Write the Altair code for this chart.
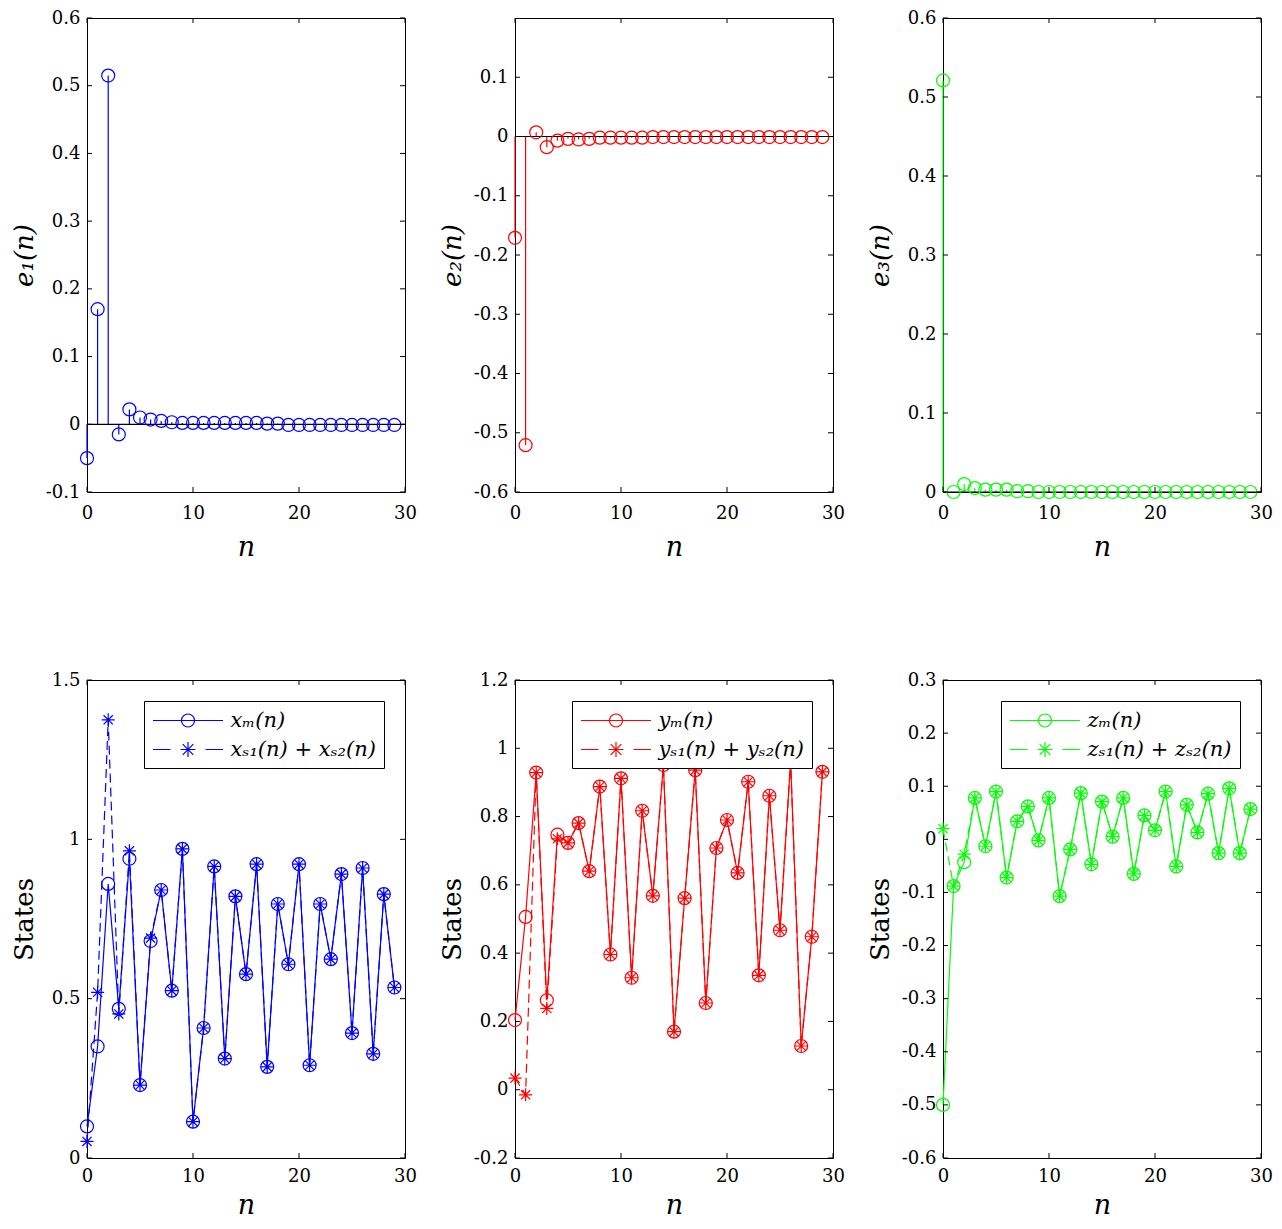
import altair as alt
import pandas as pd

# ---------------- data ----------------
N = list(range(30))

e1 = [-0.050, 0.170, 0.515, -0.015, 0.022, 0.010, 0.007, 0.005, 0.003, 0.002,
      0.002, 0.002, 0.002, 0.002, 0.002, 0.002, 0.002, 0.001, 0.001, -0.001,
      -0.001, -0.001, -0.001, -0.001, -0.001, -0.001, -0.001, -0.001, -0.001, -0.001]
e2 = [-0.171, -0.521, 0.007, -0.018, -0.007, -0.004, -0.005, -0.004, -0.002, -0.002,
      -0.002, -0.002, -0.002, -0.001, -0.001, -0.001, -0.001, -0.001, -0.001, -0.001,
      -0.001, -0.001, -0.001, -0.001, -0.001, -0.001, -0.001, -0.001, -0.001, -0.001]
e3 = [0.521, 0.000, 0.010, 0.005, 0.003, 0.003, 0.003, 0.001, 0.001, 0.000,
      0.000, 0.000, 0.000, 0.000, 0.000, 0.000, 0.000, 0.000, 0.000, 0.000,
      0.000, 0.000, 0.000, 0.000, 0.000, 0.000, 0.000, 0.000, 0.000, 0.000]

xm = [0.099, 0.350, 0.860, 0.468, 0.939, 0.229, 0.681, 0.841, 0.525, 0.970,
      0.114, 0.408, 0.915, 0.312, 0.821, 0.577, 0.922, 0.286, 0.797, 0.608,
      0.922, 0.291, 0.797, 0.624, 0.891, 0.392, 0.910, 0.327, 0.828, 0.535]
xs = [0.052, 0.520, 1.375, 0.452, 0.964, 0.229, 0.690, 0.841, 0.525, 0.970,
      0.114, 0.408, 0.915, 0.312, 0.821, 0.577, 0.922, 0.286, 0.797, 0.608,
      0.922, 0.291, 0.797, 0.624, 0.891, 0.392, 0.910, 0.327, 0.828, 0.535]

ym = [0.204, 0.506, 0.929, 0.262, 0.747, 0.723, 0.781, 0.640, 0.888, 0.396,
      0.912, 0.328, 0.817, 0.568, 0.951, 0.170, 0.561, 0.936, 0.254, 0.708,
      0.790, 0.635, 0.902, 0.335, 0.861, 0.467, 0.962, 0.128, 0.448, 0.931]
ys = [0.034, -0.015, 0.929, 0.238, 0.735, 0.723, 0.781, 0.640, 0.888, 0.396,
      0.912, 0.328, 0.817, 0.568, 0.951, 0.170, 0.561, 0.936, 0.254, 0.708,
      0.790, 0.635, 0.902, 0.335, 0.861, 0.467, 0.962, 0.128, 0.448, 0.931]

zm = [-0.500, -0.088, -0.043, 0.078, -0.013, 0.090, -0.072, 0.034, 0.062, -0.002,
      0.078, -0.107, -0.019, 0.087, -0.047, 0.071, 0.005, 0.078, -0.065, 0.045,
      0.017, 0.090, -0.051, 0.065, 0.013, 0.086, -0.026, 0.096, -0.026, 0.057]
zs = [0.020, -0.088, -0.028, 0.078, -0.013, 0.090, -0.072, 0.034, 0.062, -0.002,
      0.078, -0.107, -0.019, 0.087, -0.047, 0.071, 0.005, 0.078, -0.065, 0.045,
      0.017, 0.090, -0.051, 0.065, 0.013, 0.086, -0.026, 0.096, -0.026, 0.057]

x_ticks = [0, 10, 20, 30]
yt_e1 = [-0.1, 0.0, 0.1, 0.2, 0.3, 0.4, 0.5, 0.6]
yt_e2 = [-0.6, -0.5, -0.4, -0.3, -0.2, -0.1, 0.0, 0.1]
yt_e3 = [0.0, 0.1, 0.2, 0.3, 0.4, 0.5, 0.6]
yt_x = [0.0, 0.5, 1.0, 1.5]
yt_y = [-0.2, 0.0, 0.2, 0.4, 0.6, 0.8, 1.0, 1.2]
yt_z = [-0.6, -0.5, -0.4, -0.3, -0.2, -0.1, 0.0, 0.1, 0.2, 0.3]

lab_x = ["xₘ(n)", "xₛ₁(n) + xₛ₂(n)"]
lab_y = ["yₘ(n)", "yₛ₁(n) + yₛ₂(n)"]
lab_z = ["zₘ(n)", "zₛ₁(n) + zₛ₂(n)"]

# ---------------- style ----------------
BLUE, RED, GREEN = "#0000ff", "#ff0000", "#00ff00"
FONT = "DejaVu Serif"
W = 318
H_TOP, H_BOT = 474, 478
TICK = 5
LW = 1.2
MSIZE = 169
STAR = ("M-1,0L1,0M0,-1L0,1M-0.7071,-0.7071L0.7071,0.7071"
        "M-0.7071,0.7071L0.7071,-0.7071")
# legend symbols: unit = 10.5 px (symbol size 441)
LEG_M = ("M-3.333,0L3.333,0M0.619,0A0.619,0.619 0 1,1 -0.619,0"
         "A0.619,0.619 0 1,1 0.619,0")
LEG_S = ("M-3.333,0L-1.667,0M1.667,0L3.333,0M-0.714,0L0.714,0M0,-0.714L0,0.714"
         "M-0.505,-0.505L0.505,0.505M-0.505,0.505L0.505,-0.505")

LABEL_EXPR = ("datum.value < 0 ? '-' + format(-datum.value, '.1~f') "
              ": format(datum.value, '.1~f')")


def x_axis(top_row):
    return alt.Axis(values=x_ticks, format="d", domain=False, ticks=False, grid=False,
                    labelFont=FONT, labelFontSize=18, labelColor="black",
                    labelPadding=12 if top_row else 9, labelFlush=False, labelOverlap=False,
                    title="n", titleFont=FONT, titleFontSize=27, titleFontStyle="italic",
                    titleFontWeight="normal", titleColor="black",
                    titlePadding=12 if top_row else 7)


def y_axis(vals, title, italic):
    return alt.Axis(values=vals, labelExpr=LABEL_EXPR, domain=False, ticks=False, grid=False,
                    labelFont=FONT, labelFontSize=18, labelColor="black",
                    labelPadding=7, labelOverlap=False, minExtent=45, maxExtent=45,
                    title=title, titleFont=FONT, titleFontSize=26,
                    titleFontStyle="italic" if italic else "normal",
                    titleFontWeight="normal", titleColor="black", titlePadding=5)


def frame_ticks(yvals, xsc, ysc, xax, yax, H):
    ydf = pd.DataFrame({"t": yvals})
    xdf = pd.DataFrame({"t": x_ticks})
    rule = dict(color="black", strokeWidth=1)
    left = alt.Chart(ydf).mark_rule(**rule).encode(
        y=alt.Y("t:Q", scale=ysc, axis=yax), x=alt.value(0), x2=alt.value(TICK))
    right = alt.Chart(ydf).mark_rule(**rule).encode(
        y=alt.Y("t:Q", scale=ysc, axis=yax), x=alt.value(W - TICK), x2=alt.value(W))
    bottom = alt.Chart(xdf).mark_rule(**rule).encode(
        x=alt.X("t:Q", scale=xsc, axis=xax), y=alt.value(H - TICK), y2=alt.value(H))
    top = alt.Chart(xdf).mark_rule(**rule).encode(
        x=alt.X("t:Q", scale=xsc, axis=xax), y=alt.value(0), y2=alt.value(TICK))
    return [left, right, bottom, top]


def stem_panel(vals, color, ydom, yticks, title):
    H = H_TOP
    xsc = alt.Scale(domain=[0, 30], nice=False, zero=False)
    ysc = alt.Scale(domain=ydom, nice=False, zero=False)
    xax = x_axis(True)
    yax = y_axis(yticks, title, True)
    df = pd.DataFrame({"n": N, "v": vals, "b": [0.0] * len(N)})
    stems = alt.Chart(df).mark_rule(color=color, strokeWidth=LW).encode(
        x=alt.X("n:Q", scale=xsc, axis=xax),
        y=alt.Y("v:Q", scale=ysc, axis=yax), y2="b:Q")
    base = alt.Chart(pd.DataFrame({"v": [0.0]})).mark_rule(color="black", strokeWidth=1.2).encode(
        y=alt.Y("v:Q", scale=ysc, axis=yax), x=alt.value(0), x2=alt.value(W))
    pts = alt.Chart(df).mark_point(shape="circle", filled=False, color=color, size=MSIZE,
                                   strokeWidth=LW, opacity=1).encode(
        x=alt.X("n:Q", scale=xsc, axis=xax),
        y=alt.Y("v:Q", scale=ysc, axis=yax))
    return alt.layer(stems, base, pts, *frame_ticks(yticks, xsc, ysc, xax, yax, H)).properties(
        width=W, height=H)


def state_panel(mvals, svals, color, ydom, yticks, labels):
    H = H_BOT
    xsc = alt.Scale(domain=[0, 30], nice=False, zero=False)
    ysc = alt.Scale(domain=ydom, nice=False, zero=False)
    xax = x_axis(False)
    yax = y_axis(yticks, "States", False)
    dm = pd.DataFrame({"n": N, "v": mvals})
    ds = pd.DataFrame({"n": N, "v": svals})
    enc = dict(x=alt.X("n:Q", scale=xsc, axis=xax), y=alt.Y("v:Q", scale=ysc, axis=yax))
    line_m = alt.Chart(dm).mark_line(color=color, strokeWidth=LW).encode(**enc)
    line_s = alt.Chart(ds).mark_line(color=color, strokeWidth=LW, strokeDash=[9, 5]).encode(**enc)
    pts_m = alt.Chart(dm).mark_point(shape="circle", filled=False, color=color, size=MSIZE,
                                     strokeWidth=LW, opacity=1).encode(**enc)
    pts_s = alt.Chart(ds).mark_point(shape=STAR, filled=False, color=color, size=MSIZE,
                                     strokeWidth=LW, opacity=1).encode(**enc)
    leg_df = pd.DataFrame({"lab": labels, "n": [-50, -50], "v": [ydom[0], ydom[0]]})
    legend = alt.Chart(leg_df).mark_point(filled=False, color=color, strokeWidth=LW,
                                          clip=True, opacity=1).encode(
        x=alt.X("n:Q", scale=xsc, axis=xax),
        y=alt.Y("v:Q", scale=ysc, axis=yax),
        shape=alt.Shape("lab:N", scale=alt.Scale(domain=labels, range=[LEG_M, LEG_S]),
                        legend=alt.Legend(title=None, orient="top-right", offset=21,
                                          strokeColor="black", fillColor="white",
                                          padding=8, cornerRadius=0, rowPadding=7,
                                          symbolSize=441, symbolStrokeWidth=LW,
                                          symbolStrokeColor=color, symbolFillColor="transparent",
                                          symbolOffset=24.5,
                                          labelFont=FONT, labelFontSize=21,
                                          labelFontStyle="italic", labelColor="black",
                                          labelOffset=31, labelLimit=400)))
    return alt.layer(line_m, line_s, pts_m, pts_s, legend,
                     *frame_ticks(yticks, xsc, ysc, xax, yax, H)).properties(width=W, height=H)


p1 = stem_panel(e1, BLUE, [-0.1, 0.6], yt_e1, "e₁(n)")
p2 = stem_panel(e2, RED, [-0.6, 0.2], yt_e2, "e₂(n)")
p3 = stem_panel(e3, GREEN, [0.0, 0.6], yt_e3, "e₃(n)")
p4 = state_panel(xm, xs, BLUE, [0.0, 1.5], yt_x, lab_x)
p5 = state_panel(ym, ys, RED, [-0.2, 1.2], yt_y, lab_y)
p6 = state_panel(zm, zs, GREEN, [-0.6, 0.3], yt_z, lab_z)

chart = alt.concat(p1, p2, p3, p4, p5, p6, columns=3,
                   spacing={"row": 188, "column": 110}, bounds="flush").resolve_scale(
    shape="independent").resolve_legend(shape="independent").properties(
    autosize=alt.AutoSizeParams(type="none"),
    padding={"left": 79, "top": 10, "right": 1187, "bottom": 1203},
).configure_view(stroke="black", strokeWidth=1)

chart.save("out.html", embed_options={"renderer": "svg", "actions": False})
